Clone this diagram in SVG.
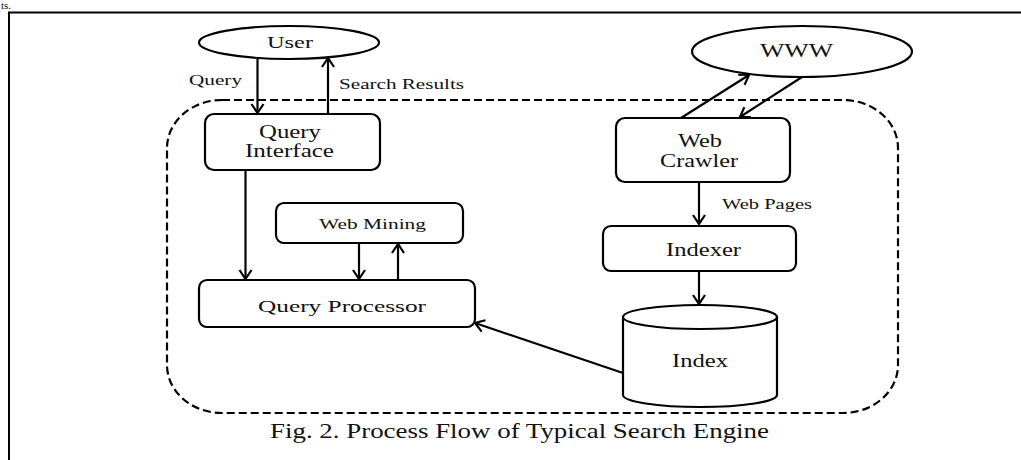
<svg xmlns="http://www.w3.org/2000/svg" width="1021" height="460" viewBox="0 0 1021 460">
<style>
.t{font-family:"Liberation Serif","Times New Roman",serif;fill:#111;}
.box{fill:#fff;stroke:#000;stroke-width:2.2;}
.ln{fill:none;stroke:#000;stroke-width:2.2;}
.ar{fill:none;stroke:#000;stroke-width:2.2;marker-end:url(#ah);}
</style>
<defs>
<marker id="ah" markerUnits="userSpaceOnUse" markerWidth="16" markerHeight="16" refX="11" refY="8" orient="auto" viewBox="0 0 16 16">
<path d="M2,2 L11,8 L2,14" fill="none" stroke="#000" stroke-width="2.2"/>
</marker>
</defs>
<rect width="1021" height="460" fill="#fff"/>
<text class="t" x="1" y="9" font-size="11">ts.</text>
<g id="frame">
<path d="M9,460 L9,12.5 L1021,12.5" fill="none" stroke="#000" stroke-width="2"/>
</g>
<g id="boundary">
<rect x="167" y="100" width="731" height="313" rx="55" ry="48" fill="none" stroke="#000" stroke-width="2.2" stroke-dasharray="8,4"/>
</g>
<g id="connectors">
<line class="ar" x1="257.5" y1="59" x2="257.5" y2="113"/>
<line class="ar" x1="328" y1="114" x2="328" y2="58"/>
<line class="ar" x1="245.5" y1="170" x2="245.5" y2="279"/>
<line class="ar" x1="359" y1="243" x2="359" y2="279"/>
<line class="ar" x1="398" y1="280" x2="398" y2="244"/>
<line class="ar" x1="681" y1="118" x2="749" y2="75"/>
<line class="ar" x1="802" y1="77" x2="740" y2="117"/>
<line class="ar" x1="699" y1="182" x2="699" y2="224"/>
<line class="ar" x1="699" y1="271" x2="699" y2="304"/>
<line class="ar" x1="623" y1="373" x2="475" y2="323"/>
<text class="t" x="189" y="85" font-size="14" textLength="53" lengthAdjust="spacingAndGlyphs">Query</text>
<text class="t" x="339" y="89" font-size="15" textLength="125" lengthAdjust="spacingAndGlyphs">Search Results</text>
<text class="t" x="722" y="209" font-size="15" textLength="90" lengthAdjust="spacingAndGlyphs">Web Pages</text>
</g>
<g id="user">
<ellipse class="box" cx="289" cy="42.5" rx="90" ry="16.5"/>
<text class="t" x="267" y="48" font-size="17" textLength="46" lengthAdjust="spacingAndGlyphs">User</text>
</g>
<g id="query-interface">
<rect class="box" x="205" y="114" width="175" height="56" rx="9"/>
<text class="t" x="259" y="138" font-size="19" textLength="62" lengthAdjust="spacingAndGlyphs">Query</text>
<text class="t" x="245" y="157" font-size="18" textLength="89" lengthAdjust="spacingAndGlyphs">Interface</text>
</g>
<g id="web-mining">
<rect class="box" x="276" y="203" width="187" height="40" rx="8"/>
<text class="t" x="319" y="229" font-size="15" textLength="107" lengthAdjust="spacingAndGlyphs">Web Mining</text>
</g>
<g id="query-processor">
<rect class="box" x="199" y="280" width="276" height="47" rx="8"/>
<text class="t" x="258" y="312" font-size="17" textLength="168" lengthAdjust="spacingAndGlyphs">Query Processor</text>
</g>
<g id="www">
<ellipse class="box" cx="802" cy="51.5" rx="110" ry="25.5"/>
<text class="t" x="760" y="57" font-size="18" textLength="73" lengthAdjust="spacingAndGlyphs">WWW</text>
</g>
<g id="web-crawler">
<rect class="box" x="616" y="118" width="174" height="64" rx="9"/>
<text class="t" x="678" y="147" font-size="19" textLength="44" lengthAdjust="spacingAndGlyphs">Web</text>
<text class="t" x="660" y="167" font-size="19" textLength="78" lengthAdjust="spacingAndGlyphs">Crawler</text>
</g>
<g id="indexer">
<rect class="box" x="603" y="226" width="193" height="45" rx="8"/>
<text class="t" x="666" y="256" font-size="19" textLength="75" lengthAdjust="spacingAndGlyphs">Indexer</text>
</g>
<g id="index">
<path class="box" d="M623,317 L623,395 A77,12 0 0 0 777,395 L777,317 Z"/>
<ellipse class="box" cx="700" cy="317" rx="77" ry="12"/>
<text class="t" x="672" y="367" font-size="19" textLength="56" lengthAdjust="spacingAndGlyphs">Index</text>
</g>
<text class="t" x="270" y="438" font-size="22" textLength="499" lengthAdjust="spacingAndGlyphs">Fig. 2. Process Flow of Typical Search Engine</text>
</svg>
